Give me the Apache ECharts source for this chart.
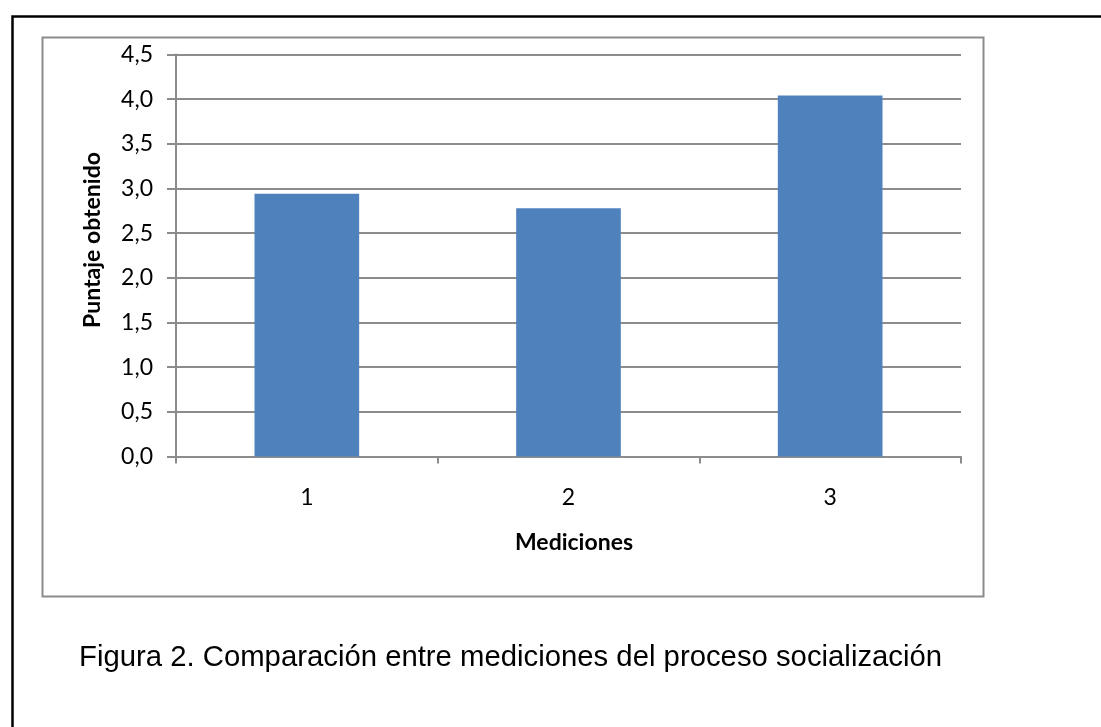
<!DOCTYPE html>
<html>
<head>
<meta charset="utf-8">
<script src="https://cdn.jsdelivr.net/npm/echarts@6/dist/echarts.min.js"></script>
<style>
  html, body { margin: 0; padding: 0; background: #fff; }
  #chart { width: 1101px; height: 727px; }
</style>
</head>
<body>
<div id="chart"></div>
<script>
// datos
var mediciones = ['1', '2', '3'];
var puntajes = [2.94, 2.78, 4.04];
var yMin = 0, yMax = 4.5, yPaso = 0.5;

var myChart = echarts.init(document.getElementById('chart'));

myChart.setOption({
  backgroundColor: '#ffffff',
  animation: false,
  grid: { left: 176, right: 140, top: 54.5, bottom: 270.5 },
  xAxis: {
    type: 'category',
    data: mediciones,
    boundaryGap: true,
    axisLine: { lineStyle: { color: '#8c8c8c', width: 2 } },
    axisTick: { show: true, length: 7, lineStyle: { color: '#8c8c8c', width: 2 } },
    axisLabel: { margin: 30, fontFamily: 'Lato', fontSize: 23, color: '#000' }
  },
  yAxis: {
    type: 'value',
    min: yMin, max: yMax, interval: yPaso,
    axisLine: { show: true, lineStyle: { color: '#8c8c8c', width: 2 } },
    axisTick: { show: true, length: 9, lineStyle: { color: '#8c8c8c', width: 2 } },
    splitLine: { lineStyle: { color: '#8c8c8c', width: 2 } },
    axisLabel: {
      margin: 23, fontFamily: 'Lato', fontSize: 23, color: '#000',
      formatter: function (v) { return v.toFixed(1).replace('.', ','); }
    }
  },
  series: [{
    type: 'bar',
    data: puntajes,
    barWidth: '40%',
    itemStyle: { color: '#4F81BD' }
  }],
  graphic: [
    { type: 'rect', left: 10, top: 14, z: -1,
      shape: { width: 1200, height: 800 },
      style: { fill: null, stroke: '#000', lineWidth: 2.5 } },
    { type: 'rect', left: 40, top: 35, z: -1,
      shape: { width: 941, height: 559 },
      style: { fill: null, stroke: '#8c8c8c', lineWidth: 2 } },
    { type: 'text', x: 93, y: 240, rotation: Math.PI / 2,
      style: { text: 'Puntaje obtenido', fontFamily: 'Lato', fontWeight: 'bold', fontSize: 23,
               fill: '#000', align: 'center', verticalAlign: 'middle' } },
    { type: 'text', x: 574, y: 543,
      style: { text: 'Mediciones', fontFamily: 'Lato', fontWeight: 'bold', fontSize: 23,
               fill: '#000', align: 'center', verticalAlign: 'middle' } },
    { type: 'text', x: 79, y: 658,
      style: { text: 'Figura 2. Comparación entre mediciones del proceso socialización',
               fontFamily: 'Liberation Sans', fontSize: 29.3, fill: '#000',
               align: 'left', verticalAlign: 'middle' } }
  ]
});
</script>
</body>
</html>
